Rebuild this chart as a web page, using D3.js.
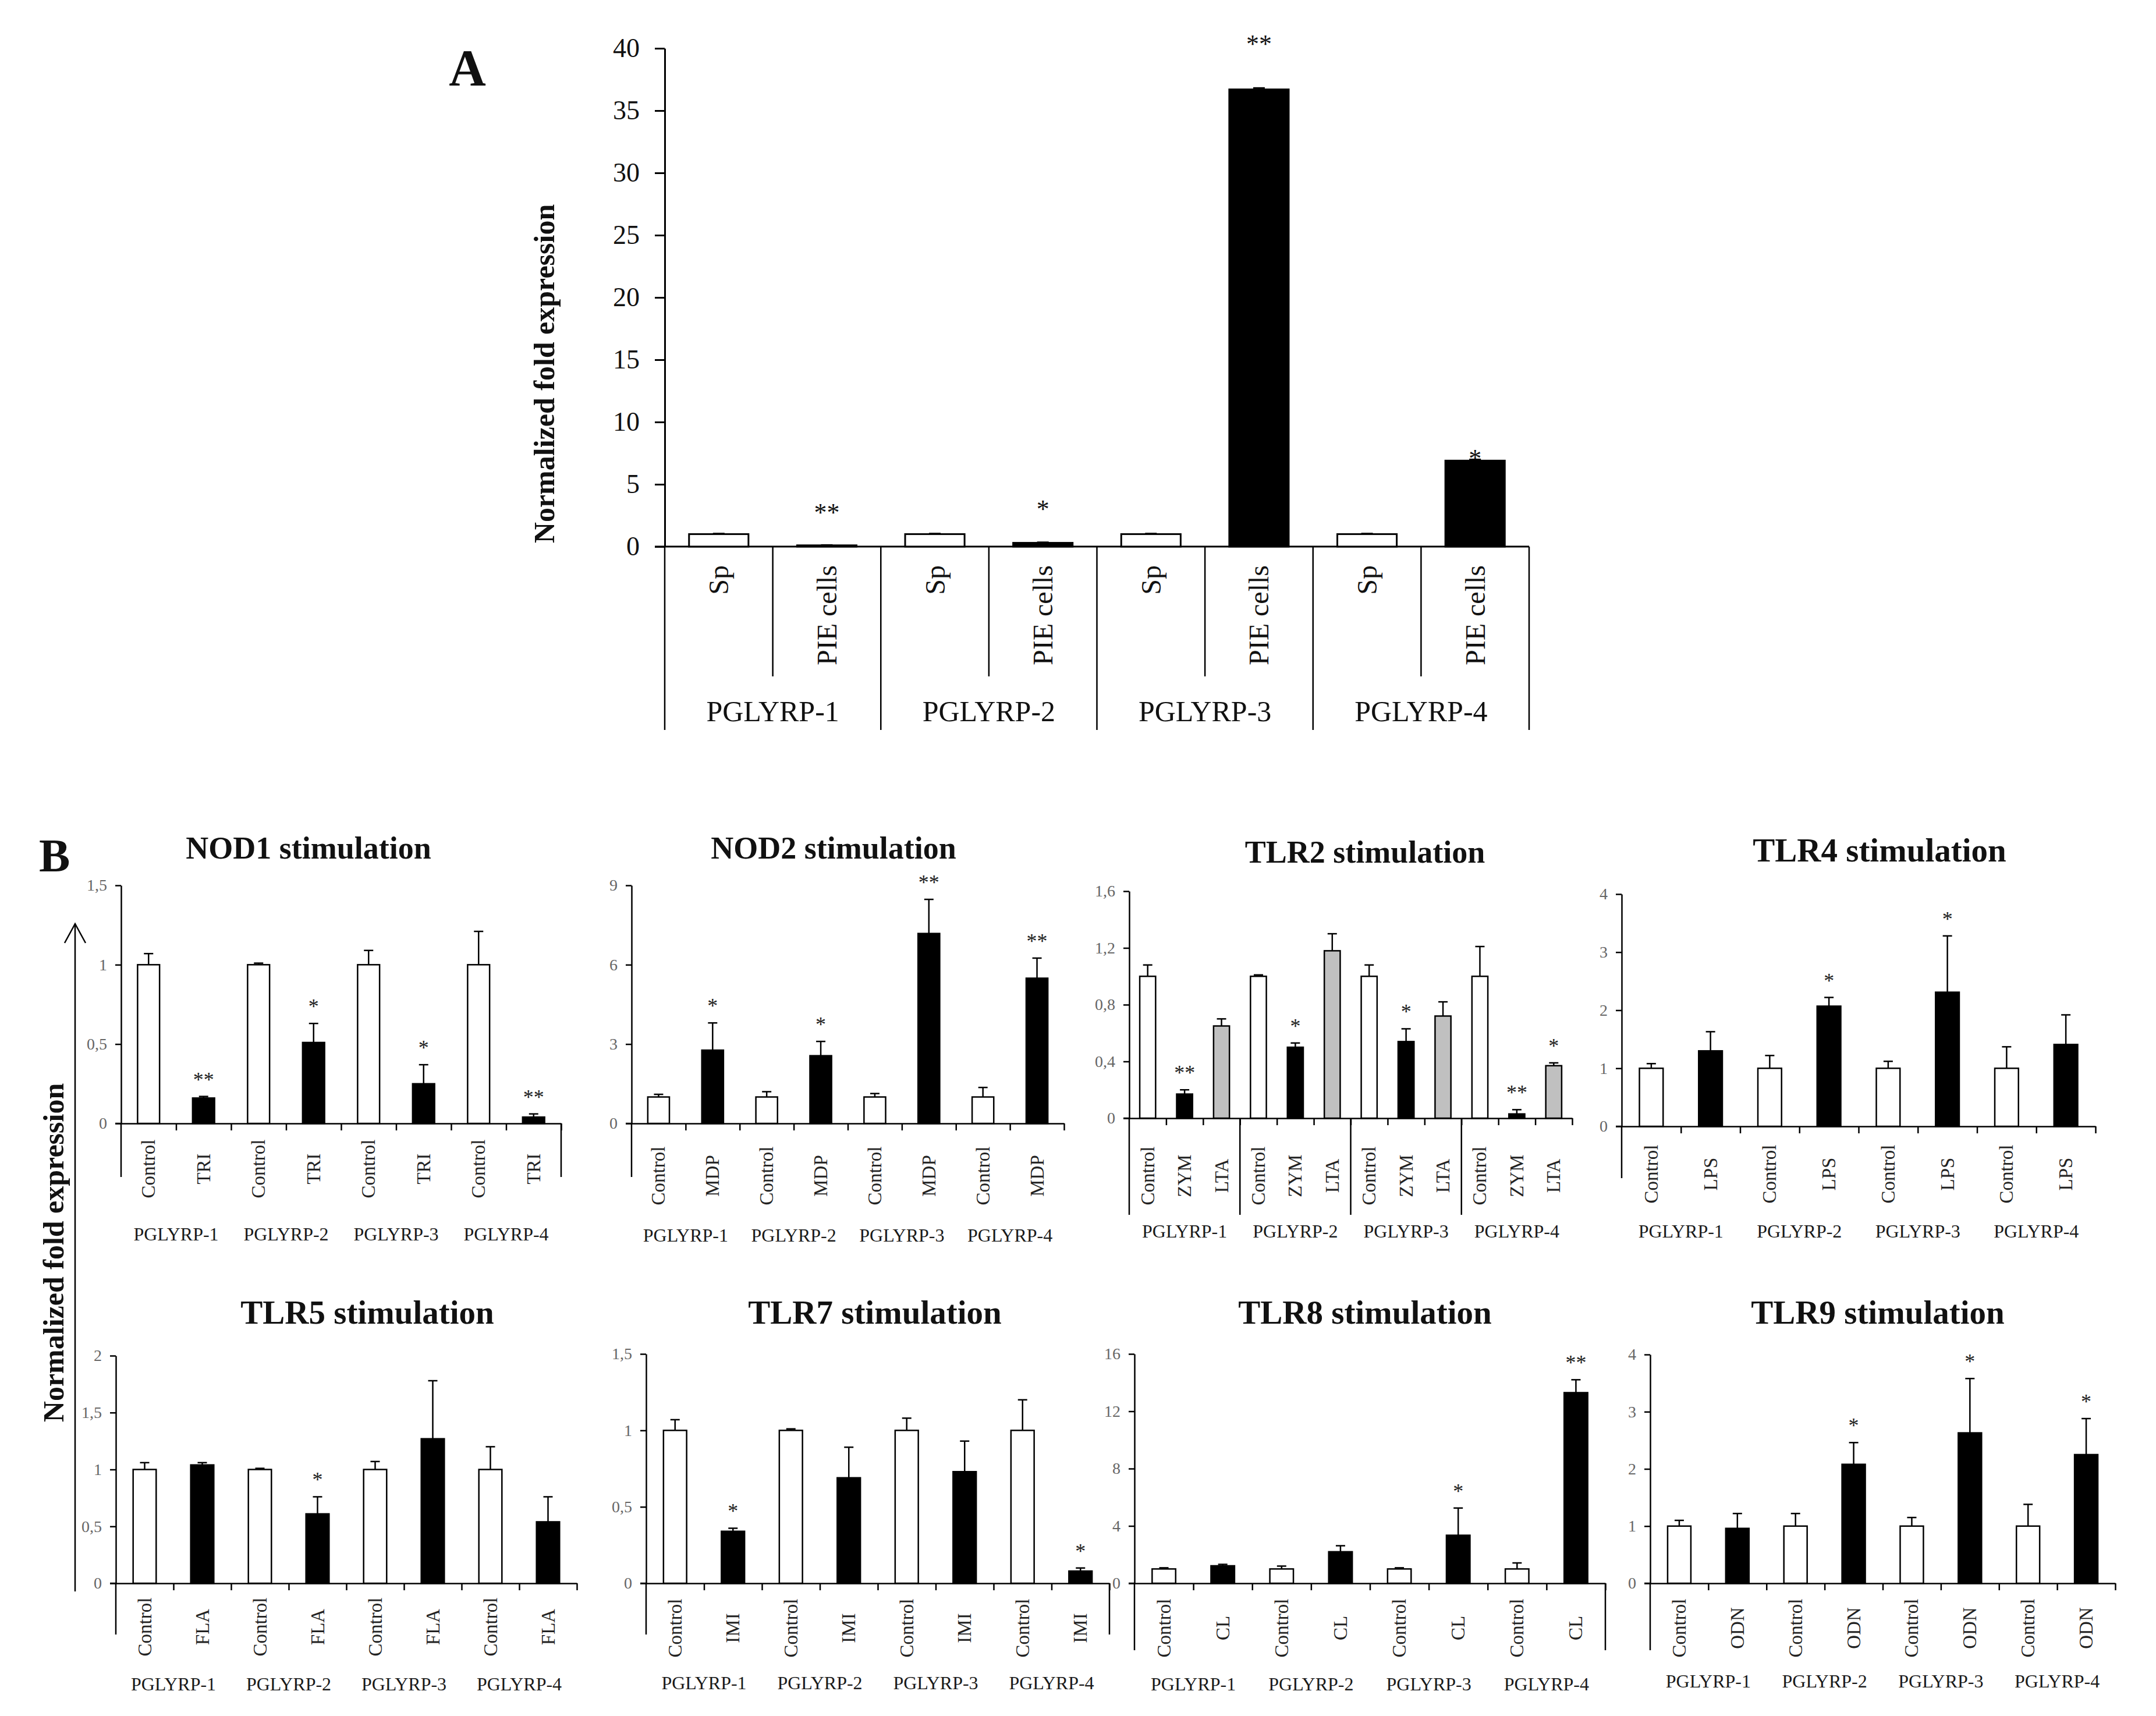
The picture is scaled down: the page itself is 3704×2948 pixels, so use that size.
<!DOCTYPE html>
<html>
<head>
<meta charset="utf-8">
<script src="https://cdn.jsdelivr.net/npm/d3@7"></script>
<style>
  html, body { margin: 0; padding: 0; background: #fff; }
  svg { display: block; }
  text { font-family: "Liberation Serif", "Times New Roman", serif; }
</style>
</head>
<body>
<script>
// ---------------- DATA ----------------
const genes = ["PGLYRP-1", "PGLYRP-2", "PGLYRP-3", "PGLYRP-4"];

// Panel A
const aSamples = ["Sp", "PIE cells"];
const aValues = [1, 0.1, 1, 0.3, 1, 36.7, 1, 6.9];
const aErrors = [0.05, 0.03, 0.05, 0.05, 0.05, 0.12, 0.05, 0.1];
const aStars = ["", "**", "", "*", "", "**", "", "*"];
const aStarLevels = [null, 3.07, null, 3.35, null, 40.7, null, 7.44];
const aTicks = [0, 5, 10, 15, 20, 25, 30, 35, 40];

// Panel B
const nod1Labels = ["Control", "TRI"];
const nod1Values = [1, 0.16, 1, 0.51, 1, 0.25, 1, 0.04];
const nod1Errors = [0.07, 0.01, 0.01, 0.12, 0.09, 0.12, 0.21, 0.02];
const nod1Stars = ["", "**", "", "*", "", "*", "", "**"];
const nod1Ticks = [0, 0.5, 1, 1.5];

const nod2Labels = ["Control", "MDP"];
const nod2Values = [1, 2.77, 1, 2.56, 1, 7.18, 1, 5.49];
const nod2Errors = [0.1, 1.03, 0.2, 0.54, 0.13, 1.29, 0.36, 0.76];
const nod2Stars = ["", "*", "", "*", "", "**", "", "**"];
const nod2Ticks = [0, 3, 6, 9];

const tlr2Labels = ["Control", "ZYM", "LTA"];
const tlr2Values = [1, 0.17, 0.65, 1, 0.50, 1.18, 1, 0.54, 0.72, 1, 0.03, 0.37];
const tlr2Errors = [0.08, 0.03, 0.05, 0.01, 0.03, 0.12, 0.08, 0.09, 0.10, 0.21, 0.03, 0.02];
const tlr2Stars = ["", "**", "", "", "*", "", "", "*", "", "", "**", "*"];
const tlr2Ticks = [0, 0.4, 0.8, 1.2, 1.6];

const tlr4Labels = ["Control", "LPS"];
const tlr4Values = [1, 1.3, 1, 2.07, 1, 2.31, 1, 1.41];
const tlr4Errors = [0.08, 0.33, 0.22, 0.15, 0.12, 0.97, 0.37, 0.51];
const tlr4Stars = ["", "", "", "*", "", "*", "", ""];
const tlr4Ticks = [0, 1, 2, 3, 4];

const tlr5Labels = ["Control", "FLA"];
const tlr5Values = [1, 1.04, 1, 0.61, 1, 1.27, 1, 0.54];
const tlr5Errors = [0.06, 0.02, 0.01, 0.15, 0.07, 0.51, 0.2, 0.22];
const tlr5Stars = ["", "", "", "*", "", "", "", ""];
const tlr5Ticks = [0, 0.5, 1, 1.5, 2];

const tlr7Labels = ["Control", "IMI"];
const tlr7Values = [1, 0.34, 1, 0.69, 1, 0.73, 1, 0.08];
const tlr7Errors = [0.07, 0.02, 0.01, 0.2, 0.08, 0.2, 0.2, 0.02];
const tlr7Stars = ["", "*", "", "", "", "", "", "*"];
const tlr7Ticks = [0, 0.5, 1, 1.5];

const tlr8Labels = ["Control", "CL"];
const tlr8Values = [1, 1.22, 1, 2.2, 1, 3.35, 1, 13.3];
const tlr8Errors = [0.08, 0.1, 0.2, 0.42, 0.08, 1.9, 0.42, 0.9];
const tlr8Stars = ["", "", "", "", "", "*", "", "**"];
const tlr8Ticks = [0, 4, 8, 12, 16];

const tlr9Labels = ["Control", "ODN"];
const tlr9Values = [1, 0.96, 1, 2.08, 1, 2.63, 1, 2.25];
const tlr9Errors = [0.1, 0.26, 0.22, 0.38, 0.15, 0.95, 0.38, 0.63];
const tlr9Stars = ["", "", "", "*", "", "*", "", "*"];
const tlr9Ticks = [0, 1, 2, 3, 4];

// ---------------- LAYOUT / STYLE ----------------
const W = 3704, H = 2948;
const fillFor = { "Control": "#ffffff", "LTA": "#c0c0c0" };
const treatFill = "#000000";
const commaFmt = d => String(d).replace(".", ",");

const panels = [
  { title: "NOD1 stimulation", labels: nod1Labels, values: nod1Values, errors: nod1Errors, stars: nod1Stars, ticks: nod1Ticks,
    x0: 208, x1: 964, yTop: 1521, yZero: 1930, lineBottom: 2022, rightLong: true, dividers: false,
    titleX: 530, titleY: 1475, titleSize: 54, subY: 2008, groupY: 2131 },
  { title: "NOD2 stimulation", labels: nod2Labels, values: nod2Values, errors: nod2Errors, stars: nod2Stars, ticks: nod2Ticks,
    x0: 1085, x1: 1828, yTop: 1521, yZero: 1930, lineBottom: 2022, rightLong: false, dividers: false,
    titleX: 1432, titleY: 1475, titleSize: 54, subY: 2020, groupY: 2133 },
  { title: "TLR2 stimulation", labels: tlr2Labels, values: tlr2Values, errors: tlr2Errors, stars: tlr2Stars, ticks: tlr2Ticks,
    x0: 1940, x1: 2701, yTop: 1531, yZero: 1921, lineBottom: 2087, rightLong: false, dividers: true,
    titleX: 2345, titleY: 1482, titleSize: 54, subY: 2020, groupY: 2126 },
  { title: "TLR4 stimulation", labels: tlr4Labels, values: tlr4Values, errors: tlr4Errors, stars: tlr4Stars, ticks: tlr4Ticks,
    x0: 2786, x1: 3600, yTop: 1536, yZero: 1935, lineBottom: 2024, rightLong: false, dividers: false,
    titleX: 3229, titleY: 1480, titleSize: 57, subY: 2017, groupY: 2126 },
  { title: "TLR5 stimulation", labels: tlr5Labels, values: tlr5Values, errors: tlr5Errors, stars: tlr5Stars, ticks: tlr5Ticks,
    x0: 199, x1: 991, yTop: 2329, yZero: 2720, lineBottom: 2808, rightLong: false, dividers: false,
    titleX: 631, titleY: 2274, titleSize: 57, subY: 2795, groupY: 2904 },
  { title: "TLR7 stimulation", labels: tlr7Labels, values: tlr7Values, errors: tlr7Errors, stars: tlr7Stars, ticks: tlr7Ticks,
    x0: 1110, x1: 1906, yTop: 2326, yZero: 2720, lineBottom: 2808, rightLong: true, dividers: false,
    titleX: 1503, titleY: 2274, titleSize: 57, subY: 2797, groupY: 2902 },
  { title: "TLR8 stimulation", labels: tlr8Labels, values: tlr8Values, errors: tlr8Errors, stars: tlr8Stars, ticks: tlr8Ticks,
    x0: 1949, x1: 2758, yTop: 2326, yZero: 2720, lineBottom: 2835, rightLong: true, dividers: false,
    titleX: 2345, titleY: 2274, titleSize: 57, subY: 2797, groupY: 2904 },
  { title: "TLR9 stimulation", labels: tlr9Labels, values: tlr9Values, errors: tlr9Errors, stars: tlr9Stars, ticks: tlr9Ticks,
    x0: 2835, x1: 3634, yTop: 2327, yZero: 2720, lineBottom: 2835, rightLong: false, dividers: false,
    titleX: 3226, titleY: 2274, titleSize: 57, subY: 2797, groupY: 2899 }
];

const svg = d3.select("body").append("svg")
  .attr("width", W).attr("height", H).attr("viewBox", `0 0 ${W} ${H}`);
svg.append("rect").attr("width", W).attr("height", H).attr("fill", "#fff");

function styleAxis(g, sw) {
  g.selectAll(".domain").attr("stroke", "#000").attr("stroke-width", sw);
  g.selectAll(".tick line").attr("stroke", "#000").attr("stroke-width", sw);
}

// ---------------- PANEL A ----------------
(function drawA() {
  const x0 = 1142, x1 = 2627, yZero = 939, yTop = 83;
  const g = svg.append("g");
  const cats = d3.range(aValues.length);
  const x = d3.scaleBand().domain(cats).range([x0, x1]).padding(0);
  const y = d3.scaleLinear().domain([0, 40]).range([yZero, yTop]);
  const bw = x.bandwidth() * 0.55;

  // y axis
  const ya = g.append("g").attr("transform", `translate(${x0},0)`)
    .call(d3.axisLeft(y).tickValues(aTicks).tickSize(17).tickSizeOuter(0).tickPadding(26));
  styleAxis(ya, 3);
  ya.selectAll(".tick text").attr("font-size", 46).attr("fill", "#111")
    .attr("font-family", "Liberation Serif, serif");

  // x axis line
  g.append("line").attr("x1", x0 - 17).attr("x2", x1).attr("y1", yZero).attr("y2", yZero)
    .attr("stroke", "#000").attr("stroke-width", 3);

  // category dividers
  const xb = d3.scaleLinear().domain([0, aValues.length]).range([x0, x1]);
  d3.range(0, aValues.length + 1).forEach(i => {
    const long = i % 2 === 0;
    g.append("line").attr("x1", xb(i)).attr("x2", xb(i))
      .attr("y1", yZero).attr("y2", long ? 1254 : 1162)
      .attr("stroke", "#000").attr("stroke-width", 2.5);
  });

  // bars
  g.selectAll("rect.bar").data(cats).join("rect")
    .attr("x", i => x(i) + (x.bandwidth() - bw) / 2)
    .attr("width", bw)
    .attr("y", i => y(aValues[i]))
    .attr("height", i => yZero - y(aValues[i]))
    .attr("fill", i => i % 2 === 0 ? "#fff" : "#000")
    .attr("stroke", "#000").attr("stroke-width", 3);

  // error bars
  cats.forEach(i => {
    const cx = x(i) + x.bandwidth() / 2;
    const top = y(aValues[i] + aErrors[i]);
    g.append("line").attr("x1", cx).attr("x2", cx).attr("y1", y(aValues[i])).attr("y2", top)
      .attr("stroke", "#000").attr("stroke-width", 2.5);
    g.append("line").attr("x1", cx - 10).attr("x2", cx + 10).attr("y1", top).attr("y2", top)
      .attr("stroke", "#000").attr("stroke-width", 2.5);
  });

  // stars
  cats.forEach(i => {
    if (!aStars[i]) return;
    g.append("text").attr("x", x(i) + x.bandwidth() / 2).attr("y", y(aStarLevels[i]) + 22)
      .attr("text-anchor", "middle").attr("font-size", 44).attr("fill", "#111").text(aStars[i]);
  });

  // sample labels (rotated)
  cats.forEach(i => {
    const cx = x(i) + x.bandwidth() / 2;
    g.append("text").attr("transform", `translate(${cx},971) rotate(-90)`)
      .attr("text-anchor", "end").attr("dominant-baseline", "central")
      .attr("font-size", 48).attr("fill", "#111").text(aSamples[i % 2]);
  });

  // gene labels
  genes.forEach((gn, k) => {
    g.append("text").attr("x", (xb(2 * k) + xb(2 * k + 2)) / 2).attr("y", 1239)
      .attr("text-anchor", "middle").attr("font-size", 50).attr("fill", "#111").text(gn);
  });

  // y label
  g.append("text").attr("transform", `translate(935,642) rotate(-90)`)
    .attr("text-anchor", "middle").attr("dominant-baseline", "central")
    .attr("font-size", 50).attr("font-weight", "bold").attr("fill", "#111")
    .text("Normalized fold expression");

  // panel letter
  svg.append("text").attr("x", 803).attr("y", 146).attr("text-anchor", "middle")
    .attr("font-size", 88).attr("font-weight", "bold").attr("fill", "#111").text("A");
})();

// ---------------- PANEL B ----------------
panels.forEach(p => {
  const g = svg.append("g");
  const n = p.values.length;
  const cats = d3.range(n);
  const nt = p.labels.length;
  const ymax = p.ticks[p.ticks.length - 1];
  const x = d3.scaleBand().domain(cats).range([p.x0, p.x1]).padding(0);
  const y = d3.scaleLinear().domain([0, ymax]).range([p.yZero, p.yTop]);
  const bw = x.bandwidth() * (nt === 3 ? 0.43 : 0.4);
  const xb = d3.scaleLinear().domain([0, n]).range([p.x0, p.x1]);

  // y axis
  const ya = g.append("g").attr("transform", `translate(${p.x0},0)`)
    .call(d3.axisLeft(y).tickValues(p.ticks).tickFormat(commaFmt).tickSize(10).tickSizeOuter(0).tickPadding(14));
  styleAxis(ya, 2.5);
  ya.selectAll(".tick text").attr("font-size", 28).attr("fill", "#666")
    .attr("font-family", "Liberation Serif, serif");

  // x axis with ticks at category boundaries
  const xa = g.append("g").attr("transform", `translate(0,${p.yZero})`)
    .call(d3.axisBottom(xb).tickValues(d3.range(1, n + 1)).tickFormat("").tickSize(12).tickSizeOuter(0));
  styleAxis(xa, 2.5);
  g.append("line").attr("x1", p.x0 - 10).attr("x2", p.x0).attr("y1", p.yZero).attr("y2", p.yZero)
    .attr("stroke", "#000").attr("stroke-width", 2.5);

  // left (and right) boundary lines
  g.append("line").attr("x1", p.x0).attr("x2", p.x0).attr("y1", p.yZero).attr("y2", p.lineBottom)
    .attr("stroke", "#000").attr("stroke-width", 2.5);
  if (p.rightLong) {
    g.append("line").attr("x1", p.x1).attr("x2", p.x1).attr("y1", p.yZero).attr("y2", p.lineBottom)
      .attr("stroke", "#000").attr("stroke-width", 2.5);
  }
  if (p.dividers) {
    d3.range(1, genes.length).forEach(k => {
      g.append("line").attr("x1", xb(k * nt)).attr("x2", xb(k * nt))
        .attr("y1", p.yZero).attr("y2", p.lineBottom)
        .attr("stroke", "#000").attr("stroke-width", 2.5);
    });
  }

  // bars
  g.selectAll("rect.bar").data(cats).join("rect")
    .attr("x", i => x(i) + (x.bandwidth() - bw) / 2)
    .attr("width", bw)
    .attr("y", i => y(p.values[i]))
    .attr("height", i => p.yZero - y(p.values[i]))
    .attr("fill", i => fillFor[p.labels[i % nt]] || treatFill)
    .attr("stroke", "#000").attr("stroke-width", 2.5);

  // error bars
  cats.forEach(i => {
    const cx = x(i) + x.bandwidth() / 2;
    const top = y(p.values[i] + p.errors[i]);
    g.append("line").attr("x1", cx).attr("x2", cx).attr("y1", y(p.values[i])).attr("y2", top)
      .attr("stroke", "#000").attr("stroke-width", 2.5);
    g.append("line").attr("x1", cx - 8).attr("x2", cx + 8).attr("y1", top).attr("y2", top)
      .attr("stroke", "#000").attr("stroke-width", 2.5);
  });

  // stars
  cats.forEach(i => {
    if (!p.stars[i]) return;
    const top = y(p.values[i] + p.errors[i]);
    g.append("text").attr("x", x(i) + x.bandwidth() / 2).attr("y", top - 35 + 18)
      .attr("text-anchor", "middle").attr("font-size", 36).attr("fill", "#222").text(p.stars[i]);
  });

  // sub labels
  cats.forEach(i => {
    const cx = x(i) + x.bandwidth() / 2;
    g.append("text").attr("transform", `translate(${cx},${p.subY}) rotate(-90)`)
      .attr("text-anchor", "middle").attr("dominant-baseline", "central")
      .attr("font-size", 33).attr("fill", "#222").text(p.labels[i % nt]);
  });

  // gene labels
  genes.forEach((gn, k) => {
    g.append("text").attr("x", (xb(k * nt) + xb((k + 1) * nt)) / 2).attr("y", p.groupY)
      .attr("text-anchor", "middle").attr("font-size", 32).attr("fill", "#1a1a1a").text(gn);
  });

  // title
  g.append("text").attr("x", p.titleX).attr("y", p.titleY).attr("text-anchor", "middle")
    .attr("font-size", p.titleSize).attr("font-weight", "bold").attr("fill", "#111").text(p.title);
});

// B letter, shared y label and arrow
svg.append("text").attr("x", 67).attr("y", 1497)
  .attr("font-size", 80).attr("font-weight", "bold").attr("fill", "#111").text("B");
svg.append("text").attr("transform", "translate(92,2152) rotate(-90)")
  .attr("text-anchor", "middle").attr("dominant-baseline", "central")
  .attr("font-size", 50).attr("font-weight", "bold").attr("fill", "#111")
  .text("Normalized fold expression");
svg.append("line").attr("x1", 129).attr("x2", 129).attr("y1", 1587).attr("y2", 2734)
  .attr("stroke", "#000").attr("stroke-width", 2.5);
svg.append("path").attr("d", "M111,1620 L129,1587 L147,1620")
  .attr("fill", "none").attr("stroke", "#000").attr("stroke-width", 2.5);
</script>
</body>
</html>
